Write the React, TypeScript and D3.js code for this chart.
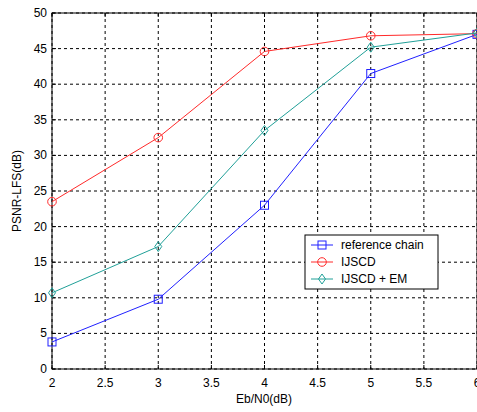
import React from "react";
import * as d3 from "d3";

const ebn0 = [2, 3, 4, 5, 6];
const refChain = [3.8, 9.8, 23.0, 41.5, 47.0];
const ijscd = [23.5, 32.5, 44.6, 46.8, 47.1];
const ijscdEm = [10.7, 17.2, 33.5, 45.2, 47.2];
const xTicks = [2, 2.5, 3, 3.5, 4, 4.5, 5, 5.5, 6];
const yTicks = [0, 5, 10, 15, 20, 25, 30, 35, 40, 45, 50];
const seriesNames = ["reference chain", "IJSCD", "IJSCD + EM"];

const W = 477, H = 412;
const L = 52, R = 477, T = 13, B = 369;
const font = "'Liberation Sans', Arial, sans-serif";

function Marker({ kind, x, y, color }: { kind: string; x: number; y: number; color: string }) {
  if (kind === "square") return <rect x={x - 4} y={y - 4} width={8} height={8} fill="none" stroke={color} strokeWidth={1} />;
  if (kind === "circle") return <circle cx={x} cy={y} r={4.3} fill="none" stroke={color} strokeWidth={1} />;
  return <path d={`M${x},${y - 5}L${x + 3.5},${y}L${x},${y + 5}L${x - 3.5},${y}Z`} fill="none" stroke={color} strokeWidth={1} />;
}

export default function App() {
  const x = d3.scaleLinear().domain([2, 6]).range([L, R]);
  const y = d3.scaleLinear().domain([0, 50]).range([B, T]);
  const line = d3.line<number>().x((_, i) => x(ebn0[i])).y((d) => y(d));
  const series = [
    { name: seriesNames[0], data: refChain, color: "#2020ff", kind: "square" },
    { name: seriesNames[1], data: ijscd, color: "#ff2a2a", kind: "circle" },
    { name: seriesNames[2], data: ijscdEm, color: "#20a098", kind: "diamond" },
  ];
  const lx = 305, ly = 235, lw = 133, lh = 54;
  return (
    <svg width={W} height={H} style={{ position: "absolute", left: 0, top: 0, background: "#fff" }}>
      <rect x={0} y={0} width={W} height={H} fill="#fff" />
      {xTicks.map((t) => (
        <line key={"gx" + t} x1={x(t)} x2={x(t)} y1={T} y2={B} stroke="#000" strokeDasharray="3,3" strokeWidth={1} />
      ))}
      {yTicks.map((t) => (
        <line key={"gy" + t} x1={L} x2={R} y1={y(t)} y2={y(t)} stroke="#000" strokeDasharray="3,3" strokeWidth={1} />
      ))}
      <rect x={L} y={T} width={R - L} height={B - T} fill="none" stroke="#000" strokeWidth={1} />
      {xTicks.map((t) => (
        <g key={"tx" + t}>
          <line x1={x(t)} x2={x(t)} y1={B} y2={B - 4} stroke="#000" />
          <line x1={x(t)} x2={x(t)} y1={T} y2={T + 4} stroke="#000" />
          <text x={x(t)} y={B + 18} textAnchor="middle" fontFamily={font} fontSize={12} fill="#000">{t}</text>
        </g>
      ))}
      {yTicks.map((t) => (
        <g key={"ty" + t}>
          <line x1={L} x2={L + 4} y1={y(t)} y2={y(t)} stroke="#000" />
          <text x={L - 5} y={y(t) + 4} textAnchor="end" fontFamily={font} fontSize={12} fill="#000">{t}</text>
        </g>
      ))}
      {series.map((s) => (
        <g key={s.name}>
          <path d={line(s.data) || ""} fill="none" stroke={s.color} strokeWidth={1} />
          {s.data.map((v, i) => (
            <Marker key={i} kind={s.kind} x={x(ebn0[i])} y={y(v)} color={s.color} />
          ))}
        </g>
      ))}
      <text x={264} y={403} textAnchor="middle" fontFamily={font} fontSize={12} fill="#000">Eb/N0(dB)</text>
      <text transform={`translate(21,191) rotate(-90)`} textAnchor="middle" fontFamily={font} fontSize={12} fill="#000">PSNR-LFS(dB)</text>
      <g>
        <rect x={lx} y={ly} width={lw} height={lh} fill="#fff" stroke="#000" strokeWidth={1} />
        {series.map((s, i) => {
          const cy = ly + 10 + i * 17;
          return (
            <g key={"lg" + i}>
              <line x1={lx + 6} x2={lx + 28} y1={cy} y2={cy} stroke={s.color} />
              <Marker kind={s.kind} x={lx + 17} y={cy} color={s.color} />
              <text x={lx + 36} y={cy + 4} fontFamily={font} fontSize={12} fill="#000">{s.name}</text>
            </g>
          );
        })}
      </g>
    </svg>
  );
}
